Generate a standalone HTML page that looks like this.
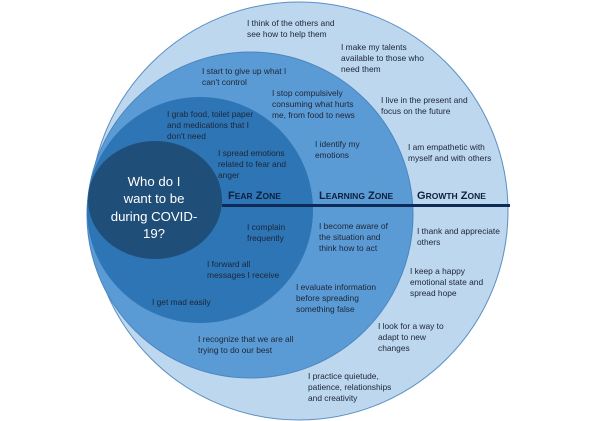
<!DOCTYPE html>
<html><head><meta charset="utf-8"><style>
html,body{margin:0;padding:0;background:#fff;width:600px;height:421px;overflow:hidden}
svg{display:block}
.t{font-family:"Liberation Sans",sans-serif;font-size:8.4px;fill:#1c2536}
.z{font-family:"Liberation Sans",sans-serif;font-weight:bold;fill:#0d1f3c}
</style></head><body>
<svg width="600" height="421" viewBox="0 0 600 421">
<circle cx="299" cy="211" r="209" fill="#bdd7ee" stroke="#5b8fc4" stroke-width="1"/>
<circle cx="250" cy="215" r="163" fill="#5b9bd5" stroke="#4a86c0" stroke-width="1"/>
<circle cx="200" cy="210" r="113" fill="#2e75b6"/>
<ellipse cx="155" cy="200" rx="67" ry="59" fill="#1f4e79"/>
<rect x="222" y="204" width="288" height="3" fill="#0e2a57"/>
<g font-family="Liberation Sans, sans-serif" font-size="13.2" fill="#fff" text-anchor="middle">
<text x="154" y="186">Who do I</text>
<text x="154" y="203">want to be</text>
<text x="154" y="221">during COVID-</text>
<text x="154" y="238">19?</text>
</g>
<text class="z" x="228" y="199" font-size="11">F<tspan font-size="8.5">EAR</tspan> Z<tspan font-size="8.5">ONE</tspan></text>
<text class="z" x="319" y="199" font-size="11">L<tspan font-size="8.5">EARNING</tspan> Z<tspan font-size="8.5">ONE</tspan></text>
<text class="z" x="417" y="199" font-size="11">G<tspan font-size="8.5">ROWTH</tspan> Z<tspan font-size="8.5">ONE</tspan></text>
<g class="t">
<text x="247" y="26">I think of the others and<tspan x="247" dy="11">see how to help them</tspan></text>
<text x="341" y="50">I make my talents<tspan x="341" dy="11">available to those who</tspan><tspan x="341" dy="11">need them</tspan></text>
<text x="202" y="74">I start to give up what I<tspan x="202" dy="11">can't control</tspan></text>
<text x="272" y="96">I stop compulsively<tspan x="272" dy="11">consuming what hurts</tspan><tspan x="272" dy="11">me, from food to news</tspan></text>
<text x="381" y="103">I live in the present and<tspan x="381" dy="11">focus on the future</tspan></text>
<text x="167" y="117">I grab food, toilet paper<tspan x="167" dy="11">and medications that I</tspan><tspan x="167" dy="11">don't need</tspan></text>
<text x="315" y="147">I identify my<tspan x="315" dy="11">emotions</tspan></text>
<text x="408" y="150">I am empathetic with<tspan x="408" dy="11">myself and with others</tspan></text>
<text x="218" y="156">I spread emotions<tspan x="218" dy="11">related to fear and</tspan><tspan x="218" dy="11">anger</tspan></text>
<text x="247" y="230">I complain<tspan x="247" dy="11">frequently</tspan></text>
<text x="319" y="229">I become aware of<tspan x="319" dy="11">the situation and</tspan><tspan x="319" dy="11">think how to act</tspan></text>
<text x="417" y="234">I thank and appreciate<tspan x="417" dy="11">others</tspan></text>
<text x="207" y="267">I forward all<tspan x="207" dy="11">messages I receive</tspan></text>
<text x="410" y="274">I keep a happy<tspan x="410" dy="11">emotional state and</tspan><tspan x="410" dy="11">spread hope</tspan></text>
<text x="296" y="290">I evaluate information<tspan x="296" dy="11">before spreading</tspan><tspan x="296" dy="11">something false</tspan></text>
<text x="152" y="305">I get mad easily</text>
<text x="378" y="329">I look for a way to<tspan x="378" dy="11">adapt to new</tspan><tspan x="378" dy="11">changes</tspan></text>
<text x="198" y="342">I recognize that we are all<tspan x="198" dy="11">trying to do our best</tspan></text>
<text x="308" y="379">I practice quietude,<tspan x="308" dy="11">patience, relationships</tspan><tspan x="308" dy="11">and creativity</tspan></text>
</g>
</svg>
</body></html>
